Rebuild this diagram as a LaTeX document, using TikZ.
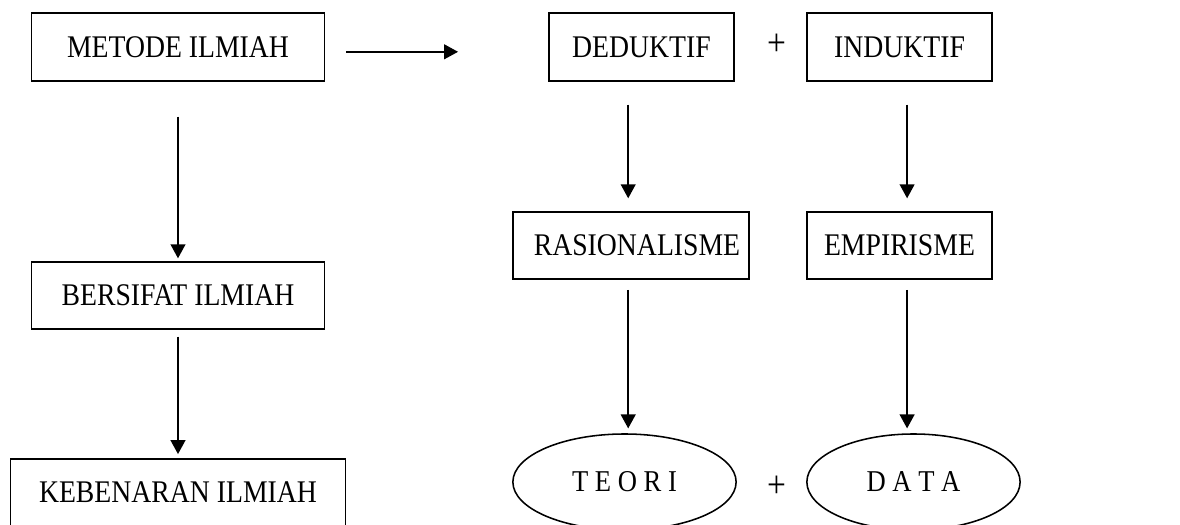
\documentclass[tikz,border=0pt]{standalone}
\usepackage{fontspec}
\setmainfont[FakeStretch=0.88]{Liberation Serif}
\usepackage{tikz}
\usetikzlibrary{arrows.meta}
\usetikzlibrary{shapes.geometric}

\begin{document}
\begin{tikzpicture}[x=0.025cm,y=-0.025cm,
		kotak/.style={shape=rectangle,draw=black,line width=1.1pt,inner sep=0pt,font=\fontsize{22.4}{26}\selectfont},
		elips/.style={shape=ellipse,draw=black,line width=1.1pt,inner sep=0pt,font=\fontsize{21.5}{26}\selectfont},
		tambah/.style={font=\fontsize{27}{30}\selectfont},
		panah/.style={-{Triangle[length=0.35cm,width=0.37cm]},line width=1.2pt}]
			\useasboundingbox (0,0) rectangle (1180,525);
			\node[kotak, minimum width=7.33cm, minimum height=1.7cm] (metode) at (178,47) {METODE ILMIAH};
			\node[kotak, minimum width=7.33cm, minimum height=1.68cm] (bersifat) at (178,295.5) {BERSIFAT ILMIAH};
			\node[kotak, minimum width=8.38cm, minimum height=1.68cm] (kebenaran) at (178,492.5) {KEBENARAN ILMIAH};
			\node[kotak, minimum width=4.63cm, minimum height=1.7cm] (deduktif) at (641.5,47) {DEDUKTIF};
			\node[kotak, minimum width=4.63cm, minimum height=1.7cm] (induktif) at (899.5,47) {INDUKTIF};
			\node[kotak, minimum width=5.9cm, minimum height=1.68cm] (rasional) at (631,245.5) {\hspace{0.3cm}RASIONALISME};
			\node[kotak, minimum width=4.63cm, minimum height=1.68cm] (empiris) at (899.5,245.5) {EMPIRISME};
			\node[elips, minimum width=5.58cm, minimum height=2.4cm] (teori) at (624.5,482) {T E O R I};
			\node[elips, minimum width=5.33cm, minimum height=2.4cm] (data) at (913.5,482) {D A T A};
			\node[tambah] (plusa) at (777,45) {+};
			\node[tambah] (plusb) at (777,487) {+};

			%% lines
			\draw[panah, shorten <=0.52cm, shorten >=2.25cm] ([yshift=-0.12cm]metode.east) -- ([yshift=-0.12cm]deduktif.west);
			\draw[panah, shorten <=0.87cm, shorten >=0.07cm] (metode.south) -- (bersifat.north);
			\draw[panah, shorten <=0.17cm, shorten >=0.1cm] (bersifat.south) -- (kebenaran.north);
			\draw[panah, shorten <=0.57cm, shorten >=0.32cm] ([xshift=-0.07cm]rasional.north |- deduktif.south) -- ([xshift=-0.07cm]rasional.north);
			\draw[panah, shorten <=0.57cm, shorten >=0.32cm] ([xshift=0.19cm]induktif.south) -- ([xshift=0.19cm]empiris.north);
			\draw[panah, shorten <=0.25cm, shorten >=0.12cm] ([xshift=-0.07cm]rasional.south) -- ([xshift=-0.07cm]rasional.south |- teori.north);
			\draw[panah, shorten <=0.25cm, shorten >=0.12cm] ([xshift=0.19cm]empiris.south) -- ([xshift=0.19cm]empiris.south |- data.north);
		\end{tikzpicture}
\end{document}
